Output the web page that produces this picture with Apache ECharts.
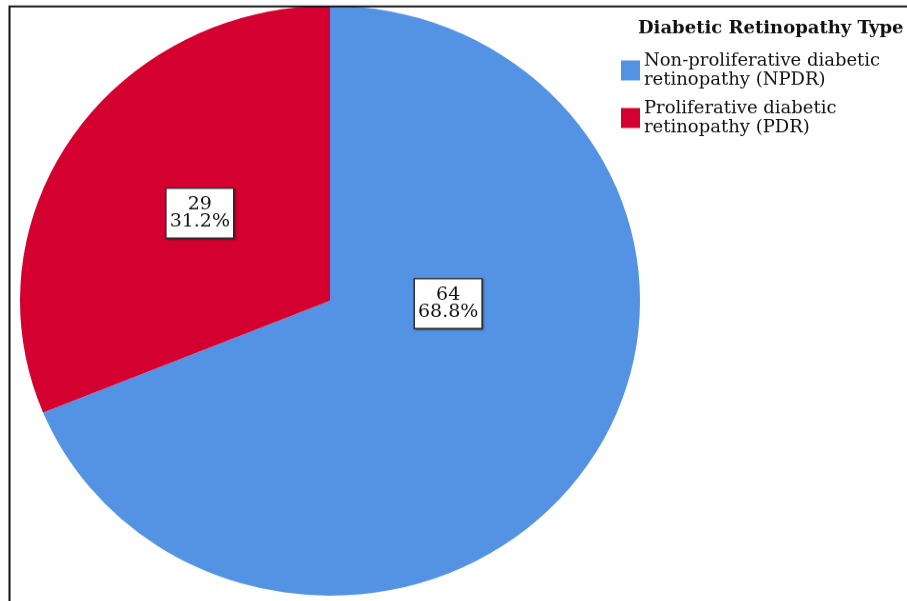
<!DOCTYPE html>
<html>
<head>
<meta charset="utf-8">
<script src="https://cdn.jsdelivr.net/npm/echarts@6/dist/echarts.min.js"></script>
<style>
    html, body { margin: 0; padding: 0; background: #fff; overflow: hidden; }
    #main { width: 907px; height: 632px; transform: scaleY(0.9516); transform-origin: 0 0; }
</style>
</head>
<body>
<div id="main"></div>
<script>
// categories and counts
var categories = ['Non-proliferative diabetic retinopathy (NPDR)', 'Proliferative diabetic retinopathy (PDR)'];
var counts = [64, 29];
var colors = ['#5493e3', '#d40030'];
var legendTitle = 'Diabetic Retinopathy Type';

var serif = '"DejaVu Serif", "Liberation Serif", serif';

var myChart = echarts.init(document.getElementById('main'));

var pieData = categories.map(function (name, i) {
    return {
        name: name,
        value: counts[i],
        itemStyle: {color: colors[i]}
    };
});

var option = {
    animation: false,
    title: {
        text: legendTitle,
        left: 633,
        top: 16,
        textStyle: {
            fontFamily: serif,
            fontSize: 18,
            fontWeight: 'bold',
            color: '#111'
        }
    },
    legend: {
        orient: 'vertical',
        left: 616,
        top: 49,
        itemWidth: 19,
        itemHeight: 21,
        itemGap: 10,
        icon: 'rect',
        data: categories,
        formatter: function (name) {
            return name.replace(' retinopathy', '\nretinopathy');
        },
        textStyle: {
            fontFamily: serif,
            fontSize: 18,
            lineHeight: 20,
            color: '#111',
            padding: [0, 0, 0, -1]
        }
    },
    graphic: [{
        type: 'rect',
        z: 100,
        shape: {x: 9.5, y: 6.8, width: 1200, height: 1200},
        style: {fill: null, stroke: '#111', lineWidth: 2}
    }],
    series: [{
        type: 'pie',
        center: [330, 316],
        radius: 310,
        startAngle: 90,
        clockwise: true,
        percentPrecision: 1,
        data: pieData,
        itemStyle: {borderWidth: 0},
        emphasis: {disabled: true},
        label: {
            show: true,
            position: 'inside',
            formatter: '{c}\n{d}%',
            fontFamily: serif,
            fontSize: 19,
            lineHeight: 18,
            color: '#111',
            backgroundColor: '#fff',
            borderColor: '#333',
            borderWidth: 1.5,
            padding: [8, 3, 7, 3],
            shadowColor: 'rgba(0,0,0,0.35)',
            shadowBlur: 2,
            shadowOffsetX: 1,
            shadowOffsetY: 1
        },
        labelLine: {show: false},
        labelLayout: function (params) {
            return params.dataIndex === 0 ? {dx: -13, dy: -85} : {dx: 1, dy: -4};
        }
    }]
};

myChart.setOption(option);
</script>
</body>
</html>
